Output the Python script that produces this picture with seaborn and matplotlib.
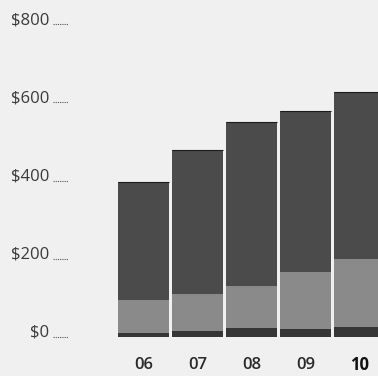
import matplotlib
matplotlib.use("Agg")
import matplotlib.pyplot as plt
import matplotlib.transforms as mtransforms
import seaborn as sns
import numpy as np
import pandas as pd

years = ["06", "07", "08", "09", "10"]
base = [10, 15, 23, 20, 26]          # bottom dark segment
middle = [85, 95, 107, 146, 173]     # lighter middle segment
top = [301, 368, 420, 412, 427]      # dark top segment
yticks = [0, 200, 400, 600, 800]
ylabels = ["$0", "$200", "$400", "$600", "$800"]

sns.set_theme(style="white")
plt.rcParams["font.family"] = ["Open Sans", "DejaVu Sans"]

bg = "#f0f0f0"
fig = plt.figure(figsize=(3.78, 3.76), dpi=100, facecolor=bg)
ax = fig.add_axes([100/378, 39/376, 278/378, 313/376])
ax.set_facecolor(bg)

df = pd.DataFrame({"year": years, "base": base, "middle": middle, "top": top})
b0 = np.zeros(len(years))
b1 = np.array(base, dtype=float)
b2 = b1 + np.array(middle)

for col, bottom, color in [("base", b0, "#363636"),
                           ("middle", b1, "#8a8a8a"),
                           ("top", b2, "#4b4b4b")]:
    sns.barplot(data=df, x="year", y=col, bottom=bottom, color=color,
                width=0.955, saturation=1, linewidth=0, ax=ax)

totals = b2 + np.array(top)
# thin dark outline at bar tops
ax.hlines(totals, np.arange(len(years)) - 0.4775, np.arange(len(years)) + 0.4775,
          color="#1a1a1a", linewidth=0.8)

ax.set_xlim(-0.806, 4.343)
ax.set_ylim(0, 800)
for s in ax.spines.values():
    s.set_visible(False)
ax.set_xlabel("")
ax.set_ylabel("")
ax.set_yticks([])
ax.set_xticks(range(len(years)))
ax.set_xticklabels([])
ax.tick_params(length=0)

# x labels
for i, y in enumerate(years):
    ax.text(i, -0.088, y, transform=mtransforms.blended_transform_factory(ax.transData, ax.transAxes),
            ha="center", va="center", fontsize=12,
            fontweight="bold" if y == "10" else "semibold",
            color="#111111" if y == "10" else "#2a2a2a")

# y labels with dotted leaders
trans = mtransforms.blended_transform_factory(fig.transFigure, ax.transData)
for v, lab in zip(yticks, ylabels):
    ax.text(49.5/378, v, lab, transform=trans, ha="right", va="baseline",
            fontsize=12, color="#3a3a3a", clip_on=False)
    ax.plot([53/378, 68/378], [v, v], transform=trans, color="#555555",
            linestyle=(0, (1, 1)), linewidth=0.8, clip_on=False)

fig.savefig("out.png", dpi=100, facecolor=bg)
